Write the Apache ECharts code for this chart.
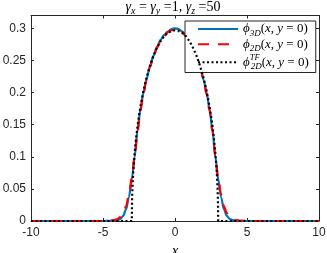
<!DOCTYPE html>
<html><head><meta charset="utf-8">
<script src="https://cdn.jsdelivr.net/npm/echarts@6/dist/echarts.min.js"></script>
<style>html,body{margin:0;padding:0;background:#fff}#c{width:327px;height:253px}</style>
</head><body><div id="c"></div>
<script>
// ---- data ----
const xTicks = [-10, -5, 0, 5, 10];
const yTicks = [0, 0.05, 0.1, 0.15, 0.2, 0.25, 0.3];

const x3D = [-10,-9,-8,-7,-6,-5,-4.5,-4.2,-4,-3.8,-3.6,-3.4,-3.2,-3,-2.8,-2.6,-2.4,-2.2,-2,-1.75,-1.5,-1.25,-1,-0.75,-0.5,-0.25,0,
             0.25,0.5,0.75,1,1.25,1.5,1.75,2,2.2,2.4,2.6,2.8,3,3.2,3.4,3.6,3.8,4,4.2,4.5,5,6,7,8,9,10];
const phi3D = [0,0,0,0,0,0,0.0002,0.0008,0.0015,0.003,0.008,0.018,0.037,0.065,0.100,0.142,0.174,0.199,0.219,0.240,0.257,0.271,0.282,0.290,0.295,0.299,0.300,
             0.299,0.295,0.290,0.282,0.271,0.257,0.240,0.219,0.199,0.174,0.142,0.100,0.065,0.037,0.018,0.008,0.003,0.0015,0.0008,0.0002,0,0,0,0,0,0];

const x2D = [-10,-9,-8,-7,-6,-5,-4.5,-4.2,-4,-3.8,-3.6,-3.4,-3.2,-3,-2.8,-2.6,-2.4,-2.2,-2,-1.75,-1.5,-1.25,-1,-0.75,-0.5,-0.25,0,
             0.25,0.5,0.75,1,1.25,1.5,1.75,2,2.2,2.4,2.6,2.8,3,3.2,3.4,3.6,3.8,4,4.2,4.5,5,6,7,8,9,10];
const phi2D = [0,0,0,0,0,0,0.0004,0.0015,0.003,0.006,0.012,0.023,0.041,0.067,0.101,0.140,0.172,0.197,0.218,0.239,0.256,0.270,0.280,0.288,0.294,0.297,0.298,
             0.297,0.294,0.288,0.280,0.270,0.256,0.239,0.218,0.197,0.172,0.140,0.101,0.067,0.041,0.023,0.012,0.006,0.003,0.0015,0.0004,0,0,0,0,0,0];

const xTF = [-10,-8,-6,-4,-3,-2.98,-2.95,-2.9,-2.8,-2.7,-2.6,-2.5,-2.4,-2.2,-2,-1.75,-1.5,-1.25,-1,-0.75,-0.5,-0.25,0,
             0.25,0.5,0.75,1,1.25,1.5,1.75,2,2.2,2.4,2.5,2.6,2.7,2.8,2.9,2.95,2.98,3,4,6,8,10];
const phiTF = [0,0,0,0,0,0.034,0.054,0.076,0.107,0.129,0.148,0.164,0.178,0.202,0.221,0.241,0.257,0.270,0.280,0.288,0.293,0.296,0.297,
             0.296,0.293,0.288,0.280,0.270,0.257,0.241,0.221,0.202,0.178,0.164,0.148,0.129,0.107,0.076,0.054,0.034,0,0,0,0,0];

const names = ['ϕ3D(x, y = 0)', 'ϕ2D(x, y = 0)', 'ϕTF2D(x, y = 0)'];

// ---- chart ----
const pairs = (xs, ys) => xs.map((x, i) => [x, ys[i]]);
const AX = '#262626';
const serif = 'Liberation Serif';
const sans = 'Liberation Sans';

const base = {fontFamily: serif, fontWeight: 'normal', color: '#000'};
const rich = {
  i:   Object.assign({}, base, {fontStyle: 'italic', fontSize: 13, lineHeight: 13.5}),
  n:   Object.assign({}, base, {fontSize: 13, lineHeight: 13.5}),
  sub: Object.assign({}, base, {fontStyle: 'italic', fontSize: 9, height: 0, lineHeight: 4, padding: [0,0,2.5,0], verticalAlign: 'bottom'}),
  supw:Object.assign({}, base, {fontStyle: 'italic', fontSize: 8.5, height: 0, lineHeight: 4, padding: [2,0,0,0], verticalAlign: 'top', width: 1})
};
const legendText = {};
legendText[names[0]] = '{i|ϕ}{sub|3D}{n|(}{i|x}{n|, }{i|y}{n| = 0)}';
legendText[names[1]] = '{i|ϕ}{sub|2D}{n|(}{i|x}{n|, }{i|y}{n| = 0)}';
legendText[names[2]] = '{i|ϕ}{supw|TF}{sub|2D}{n|(}{i|x}{n|, }{i|y}{n| = 0)}';

const titleRich = {
  g: Object.assign({}, base, {fontStyle: 'italic', fontSize: 14, lineHeight: 15}),
  n: Object.assign({}, base, {fontSize: 14, lineHeight: 15}),
  s: Object.assign({}, base, {fontStyle: 'italic', fontSize: 10, height: 0, lineHeight: 4, padding: [0,0,3.5,0], verticalAlign: 'bottom'})
};

const axisCommon = {
  type: 'value',
  axisLine: {show: true, onZero: false, lineStyle: {color: AX, width: 1}},
  axisTick: {show: true, inside: true, length: 3, lineStyle: {color: AX}},
  splitLine: {show: false}
};

const chart = echarts.init(document.getElementById('c'), null, {renderer: 'canvas'});
chart.setOption({
  animation: false,
  backgroundColor: '#fff',
  title: {
    text: '{g|γ}{s|x}{n| = }{g|γ}{s|y}{n| =1, }{g|γ}{s|z}{n| =50}',
    left: 173, top: 0, textAlign: 'center', padding: 0,
    textStyle: {fontWeight: 'normal', rich: titleRich}
  },
  grid: {left: 31, right: 8, top: 15.5, bottom: 32, containLabel: false, outerBoundsMode: 'none'},
  xAxis: [
    Object.assign({}, axisCommon, {
      min: xTicks[0], max: xTicks[xTicks.length-1], interval: xTicks[1]-xTicks[0], position: 'bottom',
      axisLabel: {fontFamily: sans, fontSize: 12, color: AX, margin: 6},
      name: 'x', nameLocation: 'middle', nameGap: 19,
      nameTextStyle: {fontFamily: serif, fontStyle: 'italic', fontSize: 15, color: '#000'}
    }),
    Object.assign({}, axisCommon, {
      min: xTicks[0], max: xTicks[xTicks.length-1], interval: xTicks[1]-xTicks[0], position: 'top',
      axisLabel: {show: false}
    })
  ],
  yAxis: [
    Object.assign({}, axisCommon, {
      min: yTicks[0], max: 0.32, interval: yTicks[1]-yTicks[0], position: 'left',
      axisLabel: {fontFamily: sans, fontSize: 12, color: AX, margin: 5, showMaxLabel: false,
        formatter: v => (yTicks.some(t => Math.abs(t - v) < 1e-9) ? String(Math.round(v*100)/100) : '')}
    }),
    Object.assign({}, axisCommon, {
      min: yTicks[0], max: 0.32, interval: yTicks[1]-yTicks[0], position: 'right',
      axisLabel: {show: false}
    })
  ],
  legend: {
    data: names,
    orient: 'vertical',
    left: 185, top: 21,
    padding: [1.5, 7, 1.5, 12],
    itemGap: 0,
    itemWidth: 40, itemHeight: 13.5,
    backgroundColor: '#fff',
    borderColor: AX, borderWidth: 1, borderRadius: 0,
    itemStyle: {opacity: 0},
    formatter: n => legendText[n],
    textStyle: {rich: rich}
  },
  series: [
    {name: names[0], type: 'line', data: pairs(x3D, phi3D), symbol: 'none', smooth: 0.3, smoothMonotone: 'x',
     lineStyle: {color: '#0072BD', width: 2.2}, itemStyle: {color: '#0072BD'}, z: 2},
    {name: names[1], type: 'line', data: pairs(x2D, phi2D), symbol: 'none', smooth: 0.3, smoothMonotone: 'x',
     lineStyle: {color: '#FF0000', width: 2.2, type: [11, 9]}, itemStyle: {color: '#FF0000'}, z: 3},
    {name: names[2], type: 'line', data: pairs(xTF, phiTF), symbol: 'none',
     lineStyle: {color: '#000000', width: 2.2, type: [2, 2.5]}, itemStyle: {color: '#000000'}, z: 4}
  ]
});
</script></body></html>
